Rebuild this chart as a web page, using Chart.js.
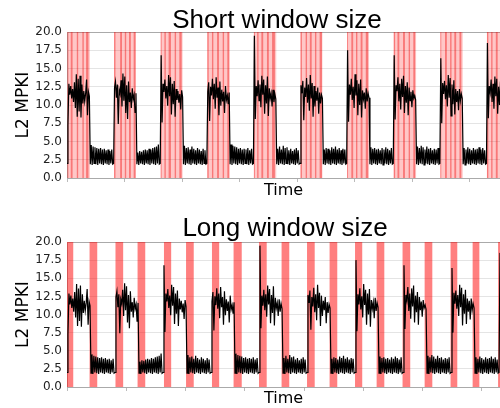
<!DOCTYPE html>
<html>
<head>
<meta charset="utf-8">
<script src="https://cdn.jsdelivr.net/npm/chart.js@4.4.0/dist/chart.umd.min.js"></script>
<style>
  body { margin: 0; background: #fff; }
  .panel { position: absolute; left: 0; width: 500px; height: 204px; }
</style>
</head>
<body>
<div class="panel" style="top:0"><canvas id="short" width="500" height="204"></canvas></div>
<div class="panel" style="top:204px"><canvas id="long" width="500" height="204"></canvas></div>
<script>
// L2 MPKI, one array per repetition of the program (a sample every 2 time units, 100 units per repetition)
const cycle1 = [2.0, 7.2,12.9,11.4,12.6,10.9,12.2,10.4,13.1,9.6,14.2,8.4,13.6,9.1,14.0,8.3,12.8,10.2,11.9,10.5,11.6,13.5,8.6,11.8,11.2, 1.9,4.5,1.8,4.3,2.0,4.2,1.9,4.1,1.8,4.0,2.0,4.1,1.9,3.9,1.8,4.0,2.0,3.8,1.9,3.9,1.8,3.7,2.0,3.9,1.9];
const cycle2 = [2.0, 12.4,13.2,11.0,12.8,7.4,12.1,11.5,13.4,9.8,14.3,10.6,13.9,8.9,12.7,8.1,13.2,10.4,11.7,9.6,12.3,10.8,11.4,9.0,11.6, 1.9,3.5,1.8,3.7,2.0,3.6,1.9,3.8,1.8,3.9,2.0,3.8,1.9,4.0,1.8,3.9,2.0,4.1,1.9,4.2,1.8,4.3,2.0,4.6,1.9];
const cycle3 = [2.0, 16.8,7.6,12.9,11.8,13.5,10.9,12.6,9.9,14.1,11.2,13.8,8.7,12.9,10.1,13.3,8.4,12.2,10.7,11.9,10.3,11.5,9.4,12.0,11.1, 1.9,4.4,1.8,4.1,2.0,4.2,1.9,3.9,1.8,4.3,2.0,4.0,1.9,3.8,1.8,4.1,2.0,3.9,1.9,3.7,1.8,4.0,2.0,3.8,1.9];
const cycle4 = [2.0, 11.8,13.1,7.8,12.5,11.3,13.6,10.8,12.9,9.5,13.8,11.0,12.4,8.6,13.2,9.9,12.1,10.5,11.8,8.9,12.6,10.7,11.3,10.1,11.7, 1.9,4.6,1.8,4.4,2.0,4.3,1.9,4.2,1.8,4.0,2.0,4.1,1.9,3.9,1.8,4.0,2.0,3.9,1.9,4.1,1.8,3.8,2.0,4.0,1.9];
const cycle5 = [2.0, 19.5,8.1,12.6,11.2,13.4,10.6,12.8,9.7,14.0,11.4,13.5,8.8,12.7,10.2,13.9,8.5,12.3,10.9,11.6,9.8,12.1,10.4,11.5,10.8, 1.9,4.0,1.8,4.3,2.0,3.9,1.9,4.4,1.8,4.1,2.0,4.2,1.9,3.8,1.8,4.0,2.0,3.7,1.9,3.9,1.8,4.1,2.0,3.8,1.9];
const cycle6 = [2.0, 12.7,11.6,13.3,7.9,12.4,11.1,13.7,10.3,12.8,9.2,14.1,10.9,13.0,8.4,12.6,9.8,11.9,10.6,12.4,8.8,11.7,10.2,11.4,10.9, 1.9,3.9,1.8,4.1,2.0,4.0,1.9,3.8,1.8,4.2,2.0,4.0,1.9,4.3,1.8,3.9,2.0,4.1,1.9,3.8,1.8,4.0,2.0,3.9,1.9];
const cycle7 = [2.0, 17.5,7.7,12.8,11.4,13.6,10.7,12.5,9.6,14.2,11.3,13.4,8.6,12.9,10.0,13.5,8.3,12.0,10.8,11.7,9.5,12.3,10.5,11.6,11.0, 1.9,4.2,1.8,4.0,2.0,4.1,1.9,3.9,1.8,4.0,2.0,3.8,1.9,4.1,1.8,3.9,2.0,4.2,1.9,4.0,1.8,3.8,2.0,4.1,1.9];
const cycle8 = [2.0, 16.8,8.0,12.7,11.9,13.8,10.5,12.9,9.4,13.6,11.1,14.0,8.9,12.6,10.3,13.1,8.6,12.4,10.6,11.8,9.7,12.0,10.9,11.3,10.7, 1.9,4.3,1.8,4.1,2.0,4.4,1.9,4.2,1.8,3.9,2.0,4.3,1.9,4.0,1.8,4.1,2.0,3.8,1.9,4.0,1.8,3.9,2.0,4.1,1.9];
const cycle9 = [2.0, 16.4,7.5,13.0,11.5,13.3,10.8,12.7,9.8,14.1,11.0,13.7,8.5,12.8,10.1,13.4,8.7,12.2,10.4,11.9,9.3,12.2,10.6,11.5,10.9, 1.9,4.1,1.8,3.9,2.0,4.2,1.9,4.0,1.8,3.8,2.0,4.1,1.9,3.9,1.8,4.0,2.0,4.2,1.9,3.9,1.8,4.1,2.0,3.8,1.9];
const cycle10 = [2.0, 18.5,8.2,12.6,11.7,13.5,10.4,12.9,9.5,13.9,11.2,13.6,8.8,12.5,10.0,13.2,8.4,12.1,10.7,11.8];

const cycleLength = 100;
const sampleStep = 2;

// x-axis tick marks (no labels in the figure)
const timeTicks = [0, 123.5, 247, 370.5, 494, 617.5, 741, 864.5];

// detected phase-change windows, [start, end] in time units
const shortWide = [[1,49],[101,148],[201,248],[301,349],[401,449],[501,548],[601,648],[701,749],[801,849],[901,950]];
const shortNarrow = [
  [1,3],[8,12],[21,24],[33,36],[41,46],
  [101,104],[114,118],[124,127],[133,137],[143,147],
  [201,203],[209,212],[218,223],[231,234],[241,246],
  [301,304],[311,314],[322,326],[334,337],[344,348],
  [401,403],[408,411],[417,421],[429,433],[440,446],
  [501,504],[512,515],[521,525],[532,535],[542,547],
  [601,603],[610,614],[620,623],[630,634],[641,646],
  [701,704],[709,713],[721,725],[733,736],[743,747],
  [801,803],[811,815],[822,825],[831,835],[842,846],
  [901,904],[910,913],[920,924],[932,935]
];
const longSpans = [[0,13],[47,63],[101,117],[147,163],[202,217],[248,264],[302,317],[347,364],[400,416],[447,463],
  [500,516],[547,563],[600,615],[645,661],[699,715],[745,761],[799,813],[845,859],[898,913]];

const cycles = [cycle1, cycle2, cycle3, cycle4, cycle5, cycle6, cycle7, cycle8, cycle9, cycle10];
const series = [];
cycles.forEach((c, k) => c.forEach((v, i) => series.push({ x: k * cycleLength + i * sampleStep, y: v })));

function bandsPlugin(layers) {
  return {
    id: 'bands',
    beforeDatasetsDraw(chart) {
      const { ctx, chartArea: a, scales: { x } } = chart;
      ctx.save();
      ctx.beginPath();
      ctx.rect(a.left, a.top, a.width, a.height);
      ctx.clip();
      layers.forEach(layer => {
        ctx.fillStyle = layer.color;
        layer.spans.forEach(([s, e]) => {
          const x0 = x.getPixelForValue(s);
          const x1 = x.getPixelForValue(e);
          ctx.fillRect(x0, a.top, x1 - x0, a.height);
        });
      });
      ctx.restore();
    }
  };
}

function titlePlugin(text, cx, baseline) {
  return {
    id: 'panelTitle',
    afterDraw(chart) {
      const ctx = chart.ctx;
      ctx.save();
      ctx.font = '26px "Liberation Sans", Arial, sans-serif';
      ctx.fillStyle = '#000';
      ctx.textAlign = 'center';
      ctx.textBaseline = 'alphabetic';
      ctx.fillText(text, cx, baseline);
      ctx.restore();
    }
  };
}

function makeChart(id, o) {
  return new Chart(document.getElementById(id), {
    type: 'line',
    data: {
      datasets: [{
        data: series,
        borderColor: '#000',
        borderWidth: 1.2,
        pointRadius: 0,
        tension: 0
      }]
    },
    options: {
      responsive: false,
      animation: false,
      layout: { padding: { top: o.top, left: 0, right: 0, bottom: 0 } },
      plugins: { legend: { display: false }, tooltip: { enabled: false } },
      scales: {
        x: {
          type: 'linear',
          min: 0,
          max: o.xMax,
          afterBuildTicks: s => { s.ticks = timeTicks.map(v => ({ value: v })); },
          afterFit: s => { s.height = o.axisHeight; },
          ticks: { display: false },
          grid: { drawOnChartArea: false, drawTicks: true, tickLength: 4, color: '#bbb' },
          border: { color: '#aaa' },
          title: {
            display: true, text: 'Time', color: '#000',
            font: { family: 'DejaVu Sans', size: 16 },
            padding: { top: 0, bottom: o.timePad }
          }
        },
        y: {
          min: 0,
          max: 20,
          afterFit: s => { s.width = 67; },
          ticks: {
            stepSize: 2.5,
            callback: v => v.toFixed(1),
            font: { family: 'DejaVu Sans', size: 12 },
            color: '#222',
            padding: 5
          },
          grid: { color: c => (c.tick && c.tick.value === 20 ? '#aaa' : '#e4e4e4'), drawTicks: false },
          border: { color: '#aaa' },
          title: {
            display: true, text: 'L2 MPKI', color: '#000',
            font: { family: 'DejaVu Sans', size: 17 },
            padding: { top: 13, bottom: 0 }
          }
        }
      }
    },
    plugins: [bandsPlugin(o.layers), titlePlugin(o.title, o.titleX, o.titleY)]
  });
}

makeChart('short', {
  top: 32, axisHeight: 26, timePad: 4, xMax: 929,
  title: 'Short window size', titleX: 277, titleY: 28,
  layers: [
    { spans: shortWide, color: 'rgba(255,0,0,0.22)' },
    { spans: shortNarrow, color: 'rgba(240,0,0,0.4)' }
  ]
});

makeChart('long', {
  top: 38, axisHeight: 21, timePad: 0, xMax: 902,
  title: 'Long window size', titleX: 285, titleY: 32,
  layers: [
    { spans: longSpans, color: 'rgba(255,0,0,0.5)' }
  ]
});
</script>
</body>
</html>
